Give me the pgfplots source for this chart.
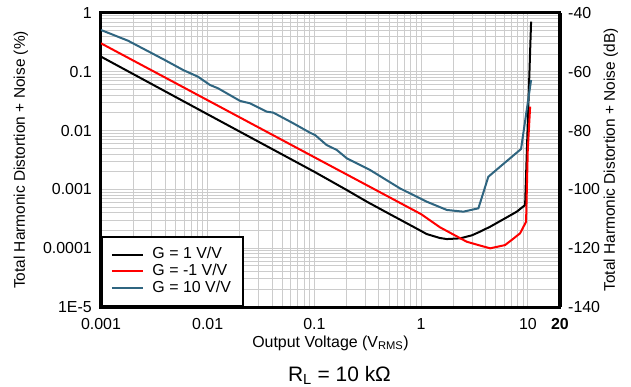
\documentclass[border=0pt]{standalone}
\usepackage{fontspec}
\setmainfont{Liberation Sans}
\usepackage{pgfplots}
\pgfplotsset{compat=1.18}
\definecolor{tealblue}{RGB}{47,101,128}
\definecolor{gridgray}{RGB}{204,204,204}
\newcommand\tickfont{\fontsize{16}{19}\selectfont}
\newcommand\labfont{\fontsize{15.5}{18}\selectfont}

\begin{document}
\begin{tikzpicture}
\useasboundingbox (0bp,0bp) rectangle (631bp,387bp);
\begin{axis}[
  at={(101bp,80bp)}, anchor=south west,
  scale only axis, width=459bp, height=294bp,
  xmode=log, ymode=log,
  xmin=0.001, xmax=20, ymin=1e-5, ymax=1,
  axis line style={line width=3bp},
  major tick length=0pt, minor tick length=0pt,
  grid=both,
  major grid style={gridgray, line width=0.9bp},
  minor grid style={gridgray, line width=0.9bp},
  xtick={0.001,0.01,0.1,1,10},
  xticklabels={0.001,0.01,0.1,1,10},
  minor xtick={0.002,0.003,0.004,0.005,0.006,0.007,0.008,0.009,
    0.02,0.03,0.04,0.05,0.06,0.07,0.08,0.09,
    0.2,0.3,0.4,0.5,0.6,0.7,0.8,0.9,
    2,3,4,5,6,7,8,9},
  extra x ticks={20},
  extra x tick labels={\textbf{20}},
  extra x tick style={grid=none},
  ytick={1e-5,1e-4,0.001,0.01,0.1,1},
  yticklabels={1E-5,0.0001,0.001,0.01,0.1,1},
  minor ytick={2e-5,3e-5,4e-5,5e-5,6e-5,7e-5,8e-5,9e-5,
    2e-4,3e-4,4e-4,5e-4,6e-4,7e-4,8e-4,9e-4,
    0.002,0.003,0.004,0.005,0.006,0.007,0.008,0.009,
    0.02,0.03,0.04,0.05,0.06,0.07,0.08,0.09,
    0.2,0.3,0.4,0.5,0.6,0.7,0.8,0.9},
  xticklabel style={font=\tickfont, anchor=base, inner sep=0pt, yshift=-22.5bp},
  yticklabel style={font=\tickfont, anchor=east, inner sep=0pt, xshift=-9bp},
  xlabel={Output Voltage (V\textsubscript{RMS})},
  xlabel style={font=\tickfont, at={(axis description cs:0.5,0)}, anchor=base, inner sep=0pt, yshift=-40bp},
  ylabel={Total Harmonic Distortion + Noise (\%)},
  ylabel style={font=\labfont, at={(axis description cs:-0.1743,0.5)}, anchor=center, rotate=0},
  legend style={at={(0,0)}, anchor=south west, draw=black, line width=2bp, fill=white,
    font=\tickfont, inner xsep=9bp, inner ysep=11bp, row sep=2.7bp, column sep=8.5bp,
    nodes={inner sep=0pt, text height=11bp, text depth=3bp}},
  legend cell align=left,
  legend image code/.code={\draw (0bp,0bp) -- (31bp,0bp);},
]
\addplot[black, line width=2bp] coordinates {
(0.001,0.181) (0.01,0.0189) (0.1,0.00199) (0.2,0.00098) (0.309,0.00062)
(0.5,0.000386) (0.787,0.000248) (1.128,0.000174) (1.5,0.000149) (1.74,0.000143)
(2.32,0.000147) (3.0,0.000166) (3.56,0.000191) (4.43,0.000232) (6.0,0.000316)
(7.87,0.000418) (9.42,0.000543) (10.72,0.711)
};
\addlegendentry{\makebox[82bp][l]{G = 1 V/V}}
\addplot[red, line width=2bp] coordinates {
(0.001,0.305) (0.01,0.0328) (0.1,0.00352) (1,0.000379) (1.5,0.000227)
(2.67,0.000129) (3.5,0.000112) (4.43,0.0000995) (5.2,0.000106) (6.11,0.000113)
(7.3,0.000145) (8.45,0.000179) (9.62,0.000282) (9.98,0.0047) (10.5,0.0255)
};
\addlegendentry{\makebox[82bp][l]{G = -1 V/V}}
\addplot[tealblue, line width=2bp] coordinates {
(0.001,0.514) (0.00179,0.338) (0.00288,0.215) (0.00395,0.159) (0.0059,0.107)
(0.0081,0.0826) (0.0105,0.0597) (0.0125,0.0524) (0.0201,0.032) (0.0249,0.0291)
(0.0357,0.0210) (0.0412,0.0202) (0.0634,0.0133) (0.0910,0.0092) (0.1014,0.0084)
(0.130,0.00569) (0.162,0.00468) (0.201,0.00338) (0.332,0.00214) (0.634,0.00104)
(1.128,0.000618) (1.74,0.000447) (2.49,0.000418) (3.44,0.000477) (4.26,0.00164)
(5.49,0.00243) (8.63,0.00486) (10.72,0.0726)
};
\addlegendentry{\makebox[82bp][l]{G = 10 V/V}}
\end{axis}
\begin{axis}[
  at={(101bp,80bp)}, anchor=south west,
  scale only axis, width=459bp, height=294bp,
  axis x line=none, axis y line*=right,
  xmin=0, xmax=1,
  ymin=-140, ymax=-40,
  axis line style={line width=3bp},
  major tick length=0pt, minor tick length=0pt,
  ytick={-140,-120,-100,-80,-60,-40},
  yticklabels={-140,-120,-100,-80,-60,-40},
  yticklabel style={font=\tickfont, anchor=west, inner sep=0pt, xshift=8bp},
  ylabel={Total Harmonic Distortion + Noise (dB)},
  ylabel style={font=\labfont, at={(axis description cs:1.1111,0.5)}, anchor=center, rotate=0},
]
\addplot[draw=none] coordinates {(0,-140) (1,-40)};
\end{axis}
\node[font=\fontsize{21}{24}\selectfont, anchor=base, inner sep=0pt]
  at (339.5bp,5.5bp) {R\textsubscript{L} = 10 kΩ};
\end{tikzpicture}
\end{document}
